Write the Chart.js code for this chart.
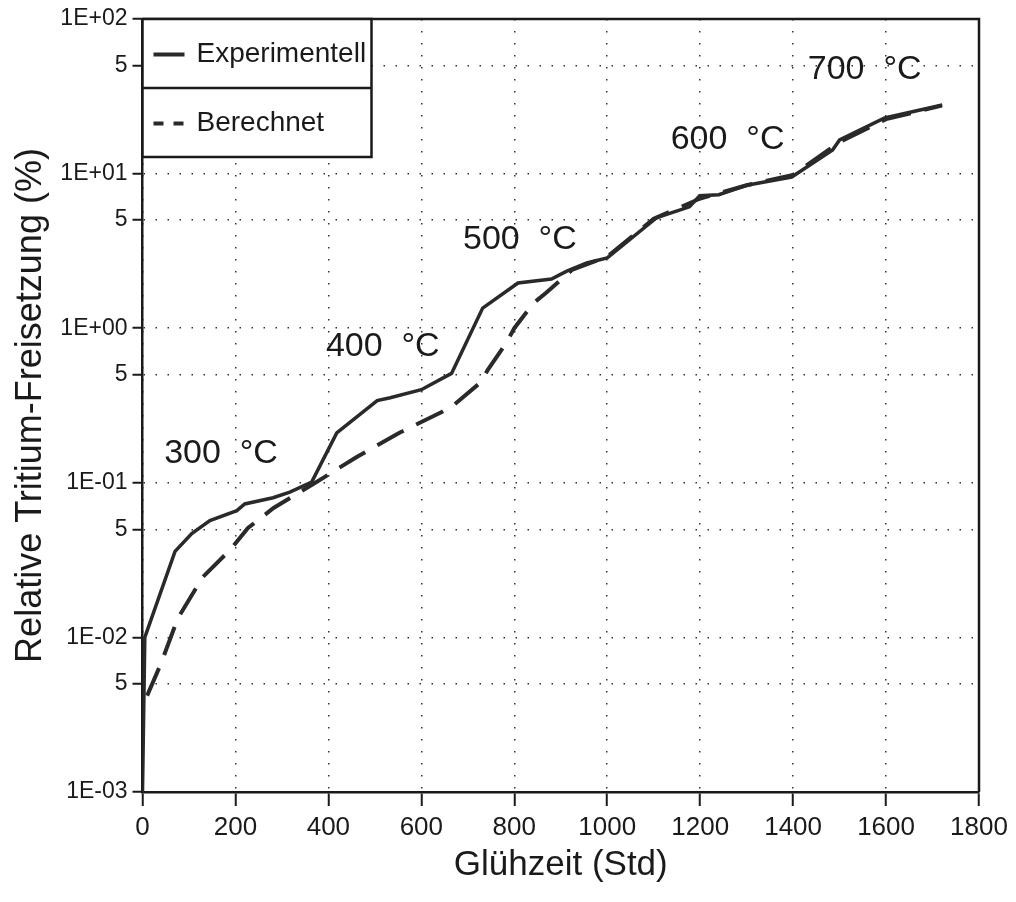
<!DOCTYPE html>
<html lang="de">
<head>
<meta charset="UTF-8">
<title>Relative Tritium-Freisetzung</title>
<style>
  html, body { margin: 0; padding: 0; background: #fff; }
</style>
<script src="https://cdn.jsdelivr.net/npm/chart.js@4"></script>
</head>
<body>
<canvas id="chart" width="1016" height="902"></canvas>
<script>
// Experimentell (solid)
const expHours   = [0, 5, 70, 106, 145, 203, 220, 281, 317, 364, 418, 505, 533, 600, 665, 732, 808, 880, 913, 956, 1000, 1107, 1177, 1199, 1240, 1300, 1397, 1485, 1500, 1597, 1721];
const expRelease = [0.001, 0.01, 0.036, 0.047, 0.057, 0.066, 0.073, 0.08, 0.087, 0.101, 0.21, 0.34, 0.355, 0.40, 0.51, 1.35, 1.96, 2.08, 2.34, 2.64, 2.85, 5.2, 6.1, 7.2, 7.3, 8.4, 9.5, 14.2, 16.5, 22.9, 27.8];

// Berechnet (dashed)
const calcHours   = [10, 40, 76, 130, 188, 227, 282, 371, 461, 552, 644, 672, 726, 743, 784, 800, 842, 868, 924, 1000, 1100, 1200, 1300, 1400, 1500, 1600, 1720];
const calcRelease = [0.0042, 0.0068, 0.0133, 0.0246, 0.0367, 0.051, 0.0687, 0.0997, 0.147, 0.21, 0.287, 0.323, 0.442, 0.537, 0.815, 1.0, 1.46, 1.69, 2.38, 2.9, 5.1, 6.9, 8.4, 9.8, 16, 22.5, 27.5];

const seriesLabels = ['Experimentell', 'Berechnet'];

const yTickValues = [0.001, 0.005, 0.01, 0.05, 0.1, 0.5, 1, 5, 10, 50, 100];
const yTickLabels = ['1E-03', '5', '1E-02', '5', '1E-01', '5', '1E+00', '5', '1E+01', '5', '1E+02'];

// temperature notes, anchored in data units (hours, %)
const tempLabels = ['300  °C', '400  °C', '500  °C', '600  °C', '700  °C'];
const tempHours  = [169, 517, 812, 1259, 1554];
const tempLevel  = [0.154, 0.755, 3.72, 16.7, 46.8];

const FONT = "'Liberation Sans', Arial, sans-serif";
const INK = '#1a1a1a';

const toPoints = (xs, ys) => xs.map((x, i) => ({ x: x, y: ys[i] }));

// closes the frame on top and right
const framePlugin = {
  id: 'frame',
  afterDraw(chart) {
    const { ctx, chartArea: a } = chart;
    ctx.save();
    ctx.strokeStyle = INK;
    ctx.lineWidth = 2.5;
    ctx.beginPath();
    ctx.moveTo(a.left, a.top);
    ctx.lineTo(a.right, a.top);
    ctx.lineTo(a.right, a.bottom);
    ctx.stroke();
    ctx.restore();
  }
};

const notesPlugin = {
  id: 'notes',
  afterDatasetsDraw(chart) {
    const { ctx, scales } = chart;
    ctx.save();
    ctx.fillStyle = INK;
    ctx.font = '34px ' + FONT;
    ctx.textAlign = 'center';
    ctx.textBaseline = 'middle';
    tempLabels.forEach((t, i) => {
      ctx.fillText(t, scales.x.getPixelForValue(tempHours[i]), scales.y.getPixelForValue(tempLevel[i]));
    });
    ctx.restore();
  }
};

// boxed legend in the top-left corner of the plot
const boxLegendPlugin = {
  id: 'boxLegend',
  afterDraw(chart) {
    const { ctx, chartArea: a } = chart;
    const w = 229, rowH = 69;
    ctx.save();
    ctx.fillStyle = '#fff';
    ctx.fillRect(a.left, a.top, w, rowH * 2);
    ctx.strokeStyle = INK;
    ctx.lineWidth = 2.5;
    ctx.strokeRect(a.left, a.top, w, rowH * 2);
    ctx.beginPath();
    ctx.moveTo(a.left, a.top + rowH);
    ctx.lineTo(a.left + w, a.top + rowH);
    ctx.stroke();
    ctx.font = '28px ' + FONT;
    ctx.textBaseline = 'middle';
    ctx.fillStyle = INK;
    chart.data.datasets.forEach((ds, i) => {
      const cy = a.top + rowH * i + rowH / 2 + 1;
      ctx.strokeStyle = ds.borderColor;
      ctx.lineWidth = 4;
      ctx.setLineDash(i === 0 ? [] : [10, 10]);
      ctx.beginPath();
      ctx.moveTo(a.left + 11, cy);
      ctx.lineTo(a.left + 42, cy);
      ctx.stroke();
      ctx.setLineDash([]);
      ctx.fillText(ds.label, a.left + 54, cy);
    });
    ctx.restore();
  }
};

new Chart(document.getElementById('chart'), {
  type: 'line',
  data: {
    datasets: [
      {
        label: seriesLabels[0],
        data: toPoints(expHours, expRelease),
        borderColor: '#2a2a2a',
        borderWidth: 3.5,
        pointRadius: 0,
        tension: 0,
        fill: false
      },
      {
        label: seriesLabels[1],
        data: toPoints(calcHours, calcRelease),
        borderColor: '#2a2a2a',
        borderWidth: 4,
        borderDash: [30, 14],
        pointRadius: 0,
        tension: 0,
        fill: false
      }
    ]
  },
  options: {
    responsive: false,
    animation: false,
    layout: { padding: { top: 19, right: 37, left: 0, bottom: 0 } },
    plugins: { legend: { display: false }, tooltip: { enabled: false } },
    scales: {
      x: {
        type: 'linear',
        min: 0,
        max: 1800,
        afterFit: s => { s.height = 110; },
        ticks: { stepSize: 200, color: INK, padding: 6, font: { family: FONT, size: 26 }, callback: v => String(v) },
        grid: { color: '#333', lineWidth: 1.5, tickColor: INK, tickWidth: 2, tickLength: 14 },
        border: { color: INK, width: 2.5, dash: [1.5, 10.5] },
        title: { display: true, text: 'Glühzeit (Std)', color: INK, padding: 16, font: { family: FONT, size: 35 } }
      },
      y: {
        type: 'logarithmic',
        min: 0.001,
        max: 100,
        afterFit: s => { s.width = 142.5; },
        afterBuildTicks: s => { s.ticks = yTickValues.map(v => ({ value: v })); },
        ticks: {
          autoSkip: false,
          color: INK,
          padding: 5,
          font: { family: FONT, size: 23 },
          callback: (v, i) => yTickLabels[i]
        },
        grid: { color: '#333', lineWidth: 1.5, tickColor: INK, tickWidth: 2, tickLength: 10 },
        border: { color: INK, width: 2.5, dash: [1.5, 10.5] },
        title: { display: true, text: 'Relative Tritium-Freisetzung (%)', color: INK, padding: 9, font: { family: FONT, size: 36 } }
      }
    }
  },
  plugins: [framePlugin, notesPlugin, boxLegendPlugin]
});
</script>
</body>
</html>
